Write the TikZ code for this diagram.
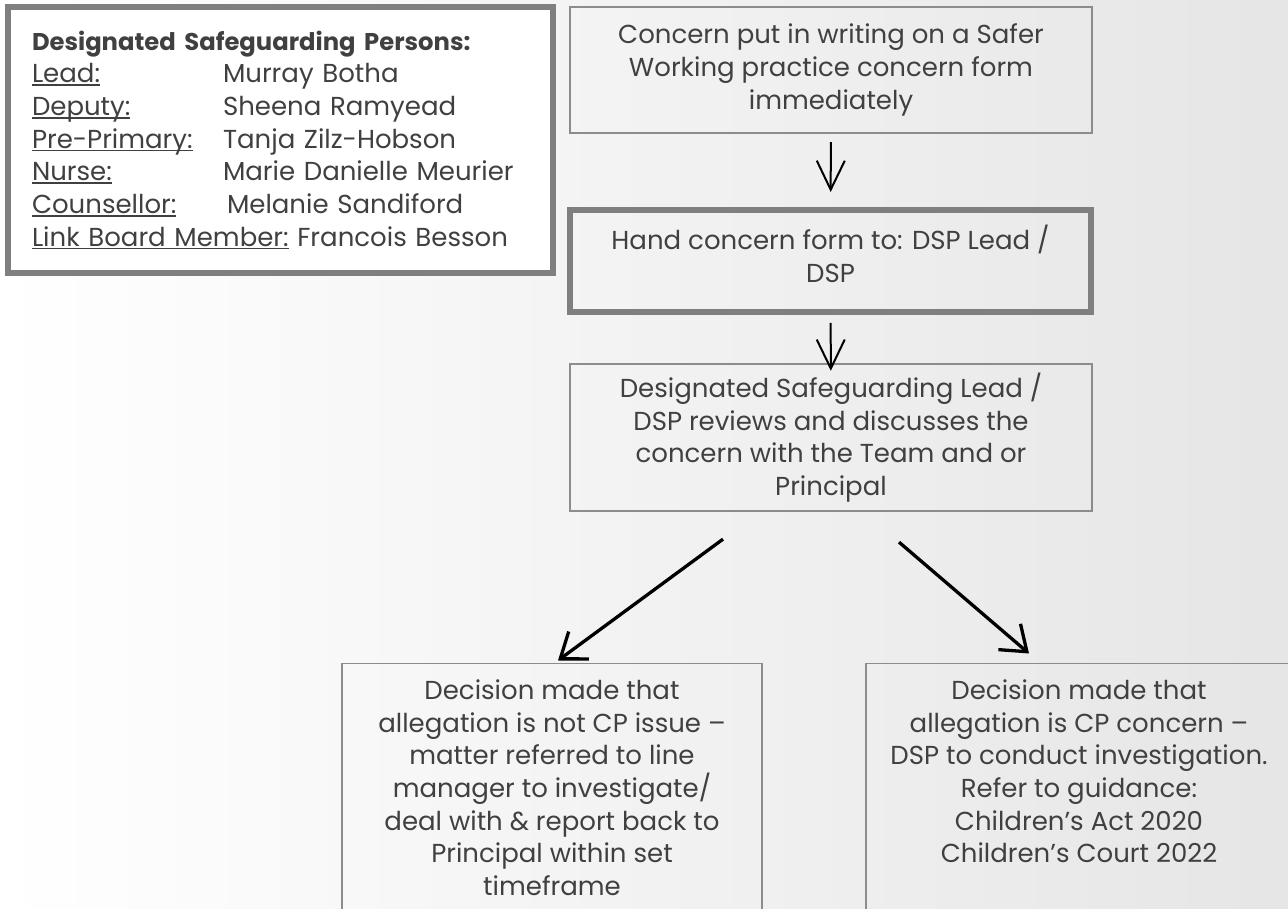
\documentclass[tikz,border=0pt]{standalone}
\usepackage{fontspec}
\setmainfont{Poppins}
\usetikzlibrary{arrows.meta}

\definecolor{framegrey}{HTML}{7F7F7F}
\definecolor{linegrey}{HTML}{8C8C8C}
\definecolor{inkgrey}{HTML}{404040}

% underline at one fixed depth for every label
\newsavebox{\uwordbox}
\newcommand{\uword}[1]{\leavevmode\sbox{\uwordbox}{#1}\rlap{\rule[-0.06cm]{\wd\uwordbox}{0.028cm}}\usebox{\uwordbox}}

\begin{document}
\begin{tikzpicture}[
    every node/.style={text=inkgrey, font=\fontsize{14.8}{18.6}\selectfont},
    thinbox/.style={draw=linegrey, line width=0.026cm, align=center},
    thickbox/.style={draw=framegrey, line width=0.12cm, align=center},
    opentop/.style={thinbox, anchor=north, inner ysep=0.32cm, text depth=7cm},
    vflow/.style={black, line width=0.04cm, -{Straight Barb[length=0.58cm,width=0.56cm]}},
    fork/.style={black, line width=0.066cm, -{Straight Barb[length=0.46cm,width=0.68cm]}}
]

% =========================
% Page and faint background
% =========================
\useasboundingbox (0,0) rectangle (25.76,18.16);
\clip (0,0) rectangle (25.76,18.16);
\shade[left color=white, right color=black!10] (0,0) rectangle (25.76,18.16);

% =========================
% Safeguarding persons
% =========================
\node[thickbox, fill=white, align=left, text width=9.94cm, inner xsep=0.48cm,
      minimum height=5.32cm] (dsp) at (5.61,15.36) {
    {\fontsize{13.8}{18.6}\selectfont\textbf{Designated Safeguarding Persons:}}\\
    \makebox[3.82cm][l]{\uword{Lead:}}Murray Botha\\
    \makebox[3.82cm][l]{\uword{Deputy:}}Sheena Ramyead\\
    \makebox[3.82cm][l]{\uword{Pre-Primary:}}Tanja Zilz-Hobson\\
    \makebox[3.82cm][l]{\uword{Nurse:}}Marie Danielle Meurier\\
    \makebox[3.90cm][l]{\uword{Counsellor:}}Melanie Sandiford\\
    \uword{Link Board Member:} Francois Besson};

% =========================
% Flow boxes
% =========================
\node[thinbox, minimum width=10.44cm, minimum height=2.52cm] (concern) at (16.62,16.76)
    {Concern put in writing on a Safer\\Working practice concern form\\immediately};

\node[thickbox, minimum width=10.42cm, minimum height=2.04cm, text depth=0.3cm] (hand) at (16.61,12.94)
    {Hand concern form to: DSP Lead /\\DSP};

\node[thinbox, minimum width=10.44cm, minimum height=2.94cm] (review) at (16.62,9.41)
    {Designated Safeguarding Lead /\\DSP reviews and discusses the\\concern with the Team and or\\Principal};

% decisions (boxes run off the page)
\node[opentop, minimum width=8.4cm] (nocp) at (11.04,4.90)
    {Decision made that\\allegation is not CP issue –\\matter referred to line\\manager to investigate/\\deal with \& report back to\\Principal within set\\timeframe};

\node[opentop, minimum width=8.52cm] (cp) at (21.58,4.90)
    {Decision made that\\allegation is CP concern –\\DSP to conduct investigation.\\Refer to guidance:\\Children’s Act 2020\\Children’s Court 2022};

% =========================
% Arrows
% =========================
\draw[vflow, shorten <=0.17cm, shorten >=0.30cm] (concern) -- (hand);
\draw[vflow, shorten <=0.16cm, shorten >=-0.15cm] (hand) -- (review);

\draw[fork] ([xshift=-2.16cm,yshift=-0.55cm]review.south) -- ([xshift=0.12cm,yshift=0.05cm]nocp.north);
\draw[fork] ([xshift=1.36cm,yshift=-0.61cm]review.south) -- ([xshift=-1.0cm,yshift=0.19cm]cp.north);

\end{tikzpicture}
\end{document}
